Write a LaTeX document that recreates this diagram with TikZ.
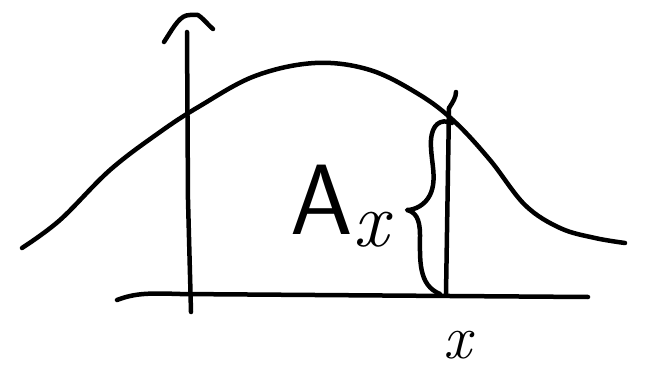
\documentclass[tikz,border=0pt]{standalone}
\begin{document}
\begin{tikzpicture}[x=1pt,y=-1pt,
  pen/.style={line width=4.5pt,line cap=round,line join=round,black}]
\useasboundingbox (0,0) rectangle (661,374);
% vertical axis
\draw[pen] (187,32) -- (188,200) -- (191,312);
\draw[pen] (164,42) .. controls (175,25) and (180,15) .. (190,15) -- (198,15) .. controls (205,20) and (208,25) .. (213,29);
% horizontal axis
\draw[pen] (117,300) .. controls (135,293) and (150,293) .. (180,294) -- (450,296) -- (588,297);
% bell curve
\draw[pen] plot[smooth,tension=0.6] coordinates {(22,248) (60,220) (110,170) (160,132) (200,106) (255,76) (315,63) (370,70) (420,95) (455,122) (490,160) (525,205) (560,228) (595,238) (625,243)};
% vertical line at x
\draw[pen] (449,108) -- (446,294);
\draw[pen] (449,108) .. controls (453,102) and (456,97) .. (456,92);
% brace
\draw[pen] (452,123) .. controls (440,118) and (432,125) .. (431,140)
  .. controls (430,160) and (438,178) .. (430,195)
  .. controls (425,205) and (415,210) .. (407,210)
  .. controls (415,212) and (420,218) .. (420,235)
  .. controls (420,260) and (418,285) .. (440,294);
% labels
\node[inner sep=0pt,anchor=base] (Ax) at (322,234) {\fontsize{100}{100}\selectfont\sffamily A};
\node[inner sep=0pt,anchor=base] (sub) at (371,247) {\fontsize{78}{78}\selectfont\itshape x};
\node[inner sep=0pt,anchor=base] (xl) at (457,358) {\fontsize{62}{62}\selectfont\itshape x};
\end{tikzpicture}
\end{document}
